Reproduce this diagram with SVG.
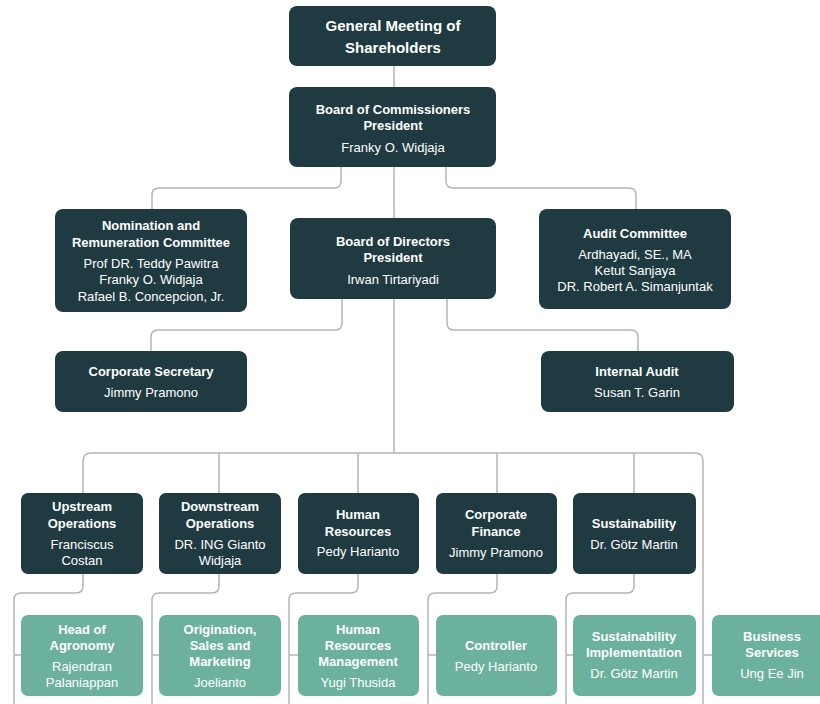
<svg xmlns="http://www.w3.org/2000/svg" width="820" height="704" viewBox="0 0 820 704">
<style>
.d{fill:#1f3a41}
.l{fill:#6cb19d}
text{font-family:"Liberation Sans",Arial,sans-serif;fill:#ffffff;text-anchor:middle;font-size:13px}
.t{font-weight:700}
.n{font-weight:400}
.big{font-size:15px}
.c{fill:none;stroke:#b5b5b5;stroke-width:1.5}
</style>
<rect width="820" height="704" fill="#ffffff"/>
<g id="connectors" class="c">
<path d="M394 66V87"/>
<path d="M394 167V219"/>
<path d="M341 167V181Q341 188 334 188H159Q152 188 152 195V209"/>
<path d="M446 167V181Q446 188 453 188H629Q636 188 636 195V209"/>
<path d="M342 299V323Q342 330 335 330H158Q151 330 151 337V351"/>
<path d="M447 299V323Q447 330 454 330H631Q638 330 638 337V351"/>
<path d="M394 299V453"/>
<path d="M83 493V461Q83 453 91 453H695Q703 453 703 461V704"/>
<path d="M219 453V493M358 453V493M497 453V493M634 453V493"/>
<path d="M83 574V586Q83 593 76 593H21Q14 593 14 600V704M14 655H21"/>
<path d="M219 574V586Q219 593 212 593H159Q152 593 152 600V704M152 655H159"/>
<path d="M358 574V586Q358 593 351 593H296Q289 593 289 600V704M289 655H298"/>
<path d="M497 574V586Q497 593 490 593H435Q428 593 428 600V704M428 655H436"/>
<path d="M634 574V586Q634 593 627 593H573Q566 593 566 600V704M566 655H573"/>
<path d="M703 655H712"/>
</g>
<g id="gms"><rect class="d" x="289" y="6" width="207" height="60" rx="8"/>
<text class="t big" x="393" y="31">General Meeting of</text><text class="t big" x="393" y="53">Shareholders</text></g>
<g id="boc"><rect class="d" x="289" y="87" width="207" height="80" rx="8"/>
<text class="t" x="393" y="114">Board of Commissioners</text><text class="t" x="393" y="130">President</text><text class="n" x="393" y="152">Franky O. Widjaja</text></g>
<g id="nom"><rect class="d" x="55" y="209" width="192" height="103" rx="8"/>
<text class="t" x="151" y="230">Nomination and</text><text class="t" x="151" y="247">Remuneration Committee</text>
<text class="n" x="151" y="268">Prof DR. Teddy Pawitra</text><text class="n" x="151" y="284">Franky O. Widjaja</text><text class="n" x="151" y="301">Rafael B. Concepcion, Jr.</text></g>
<g id="bod"><rect class="d" x="290" y="218" width="206" height="81" rx="8"/>
<text class="t" x="393" y="246">Board of Directors</text><text class="t" x="393" y="262">President</text><text class="n" x="393" y="284">Irwan Tirtariyadi</text></g>
<g id="audc"><rect class="d" x="539" y="209" width="192" height="100" rx="8"/>
<text class="t" x="635" y="238">Audit Committee</text><text class="n" x="635" y="259">Ardhayadi, SE., MA</text><text class="n" x="635" y="275">Ketut Sanjaya</text><text class="n" x="635" y="291">DR. Robert A. Simanjuntak</text></g>
<g id="cs"><rect class="d" x="55" y="351" width="192" height="61" rx="8"/>
<text class="t" x="151" y="376">Corporate Secretary</text><text class="n" x="151" y="397">Jimmy Pramono</text></g>
<g id="ia"><rect class="d" x="541" y="351" width="193" height="61" rx="8"/>
<text class="t" x="637" y="376">Internal Audit</text><text class="n" x="637" y="397">Susan T. Garin</text></g>
<g id="up"><rect class="d" x="21" y="493" width="122" height="81" rx="7"/>
<text class="t" x="82" y="511">Upstream</text><text class="t" x="82" y="528">Operations</text><text class="n" x="82" y="549">Franciscus</text><text class="n" x="82" y="565">Costan</text></g>
<g id="down"><rect class="d" x="159" y="493" width="122" height="81" rx="7"/>
<text class="t" x="220" y="511">Downstream</text><text class="t" x="220" y="528">Operations</text><text class="n" x="220" y="549">DR. ING Gianto</text><text class="n" x="220" y="565">Widjaja</text></g>
<g id="hr"><rect class="d" x="298" y="493" width="121" height="81" rx="7"/>
<text class="t" x="358" y="519">Human</text><text class="t" x="358" y="536">Resources</text><text class="n" x="358" y="556">Pedy Harianto</text></g>
<g id="cf"><rect class="d" x="436" y="493" width="121" height="81" rx="7"/>
<text class="t" x="496" y="519">Corporate</text><text class="t" x="496" y="536">Finance</text><text class="n" x="496" y="557">Jimmy Pramono</text></g>
<g id="sus"><rect class="d" x="573" y="493" width="123" height="81" rx="7"/>
<text class="t" x="634" y="528">Sustainability</text><text class="n" x="634" y="549">Dr. Götz Martin</text></g>
<g id="agro"><rect class="l" x="21" y="615" width="122" height="81" rx="7"/>
<text class="t" x="82" y="634">Head of</text><text class="t" x="82" y="650">Agronomy</text><text class="n" x="82" y="671">Rajendran</text><text class="n" x="82" y="687">Palaniappan</text></g>
<g id="orig"><rect class="l" x="159" y="615" width="122" height="81" rx="7"/>
<text class="t" x="220" y="634">Origination,</text><text class="t" x="220" y="650">Sales and</text><text class="t" x="220" y="666">Marketing</text><text class="n" x="220" y="687">Joelianto</text></g>
<g id="hrm"><rect class="l" x="298" y="615" width="121" height="81" rx="7"/>
<text class="t" x="358" y="634">Human</text><text class="t" x="358" y="650">Resources</text><text class="t" x="358" y="666">Management</text><text class="n" x="358" y="687">Yugi Thusida</text></g>
<g id="ctrl"><rect class="l" x="436" y="615" width="121" height="81" rx="7"/>
<text class="t" x="496" y="650">Controller</text><text class="n" x="496" y="671">Pedy Harianto</text></g>
<g id="susi"><rect class="l" x="573" y="615" width="123" height="81" rx="7"/>
<text class="t" x="634" y="641">Sustainability</text><text class="t" x="634" y="657">Implementation</text><text class="n" x="634" y="678">Dr. Götz Martin</text></g>
<g id="bs"><rect class="l" x="712" y="615" width="122" height="81" rx="7"/>
<text class="t" x="772" y="641">Business</text><text class="t" x="772" y="657">Services</text><text class="n" x="772" y="678">Ung Ee Jin</text></g>
</svg>
